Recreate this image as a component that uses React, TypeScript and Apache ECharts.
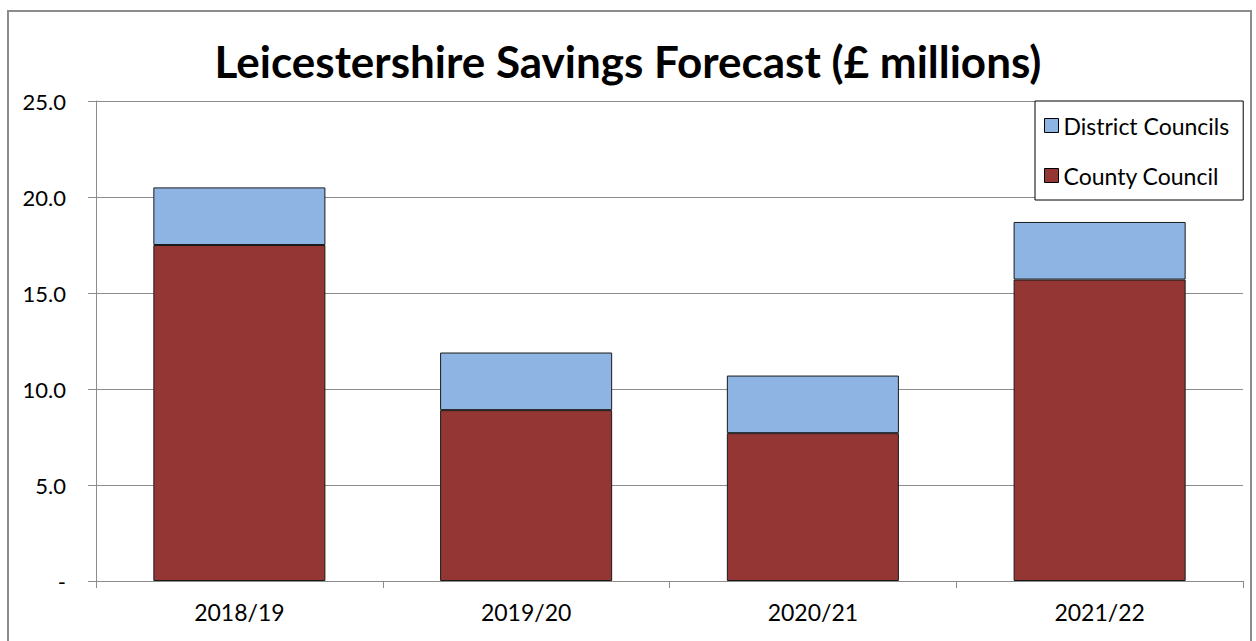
import React, { useEffect, useRef } from "react";
import * as echarts from "echarts";

const categories = ["2018/19", "2019/20", "2020/21", "2021/22"];
const countyCouncil = [17.5, 8.9, 7.7, 15.7];
const districtCouncils = [3.0, 3.0, 3.0, 3.0];
const yTicks = { min: 0, max: 25, interval: 5 };

const FONT = "Lato";

export default function App() {
  const ref = useRef<HTMLDivElement>(null);
  useEffect(() => {
    if (!ref.current) return;
    const chart = echarts.init(ref.current, null, { renderer: "svg" });
    chart.setOption({
      animation: false,
      backgroundColor: "#ffffff",
      title: {
        text: "Leicestershire Savings Forecast (£ millions)",
        left: "center",
        top: 34,
        textStyle: { fontFamily: FONT, fontWeight: "bold", fontSize: 44, color: "#000" },
      },
      graphic: [
        {
          type: "rect",
          shape: { x: 8, y: 11, width: 1243, height: 660 },
          style: { fill: "none", stroke: "#8c8c8c", lineWidth: 2 },
          silent: true,
          z: -1,
        },
      ],
      legend: {
        orient: "vertical",
        left: 1035,
        top: 101,
        data: ["District Councils", "County Council"],
        icon: "rect",
        itemWidth: 14,
        itemHeight: 14,
        itemGap: 27,
        itemStyle: { borderColor: "#000", borderWidth: 1 },
        padding: [13, 14, 13, 9],
        borderColor: "#000",
        borderWidth: 1,
        backgroundColor: "#fff",
        textStyle: { fontFamily: FONT, fontSize: 23, color: "#000", lineHeight: 22 },
      },
      grid: { left: 96, right: 13, top: 101, bottom: 60, containLabel: false },
      xAxis: {
        type: "category",
        data: categories,
        boundaryGap: true,
        axisLine: { lineStyle: { color: "#8c8c8c", width: 1 } },
        axisTick: { show: true, length: 7, lineStyle: { color: "#8c8c8c" } },
        axisLabel: { fontFamily: FONT, fontSize: 23, color: "#000", margin: 19 },
      },
      yAxis: {
        type: "value",
        min: yTicks.min,
        max: yTicks.max,
        interval: yTicks.interval,
        axisLine: { show: true, lineStyle: { color: "#8c8c8c", width: 1 } },
        axisTick: { show: true, length: 8, lineStyle: { color: "#8c8c8c" } },
        splitLine: { lineStyle: { color: "#8c8c8c", width: 1 } },
        axisLabel: {
          fontFamily: FONT,
          fontSize: 22,
          color: "#000",
          margin: 30,
          formatter: (v: number) => (v === 0 ? "-" : v.toFixed(1)),
        },
      },
      series: [
        {
          name: "County Council",
          type: "bar",
          stack: "total",
          barWidth: "60%",
          data: countyCouncil,
          itemStyle: { color: "#943634", borderColor: "#1a1a1a", borderWidth: 1 },
        },
        {
          name: "District Councils",
          type: "bar",
          stack: "total",
          barWidth: "60%",
          data: districtCouncils,
          itemStyle: { color: "#8EB4E3", borderColor: "#1a1a1a", borderWidth: 1 },
        },
      ],
    });
    return () => chart.dispose();
  }, []);
  return (
    <div
      ref={ref}
      style={{ position: "absolute", left: 0, top: 0, width: 1256, height: 641 }}
    />
  );
}
